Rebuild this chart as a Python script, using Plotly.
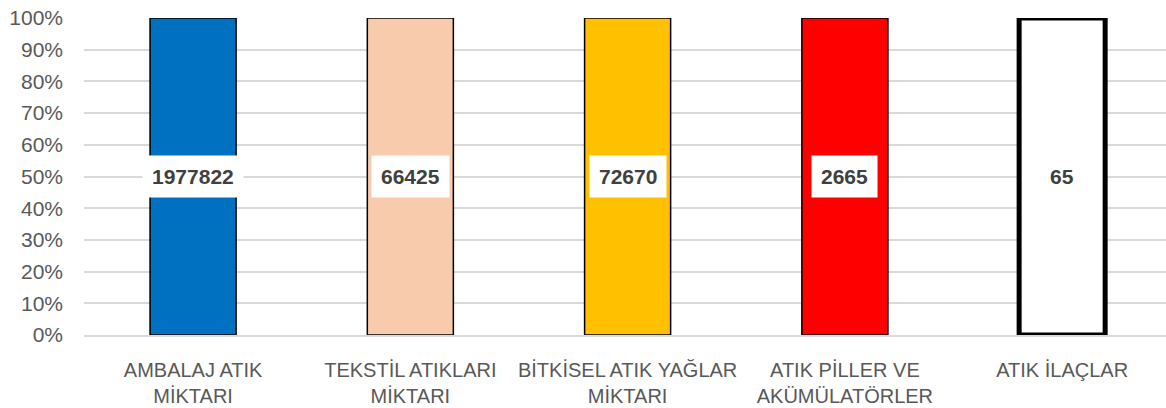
import plotly.graph_objects as go

categories = ["AMBALAJ ATIK<br>MİKTARI", "TEKSTİL ATIKLARI<br>MİKTARI",
              "BİTKİSEL ATIK YAĞLAR<br>MİKTARI", "ATIK PİLLER VE<br>AKÜMÜLATÖRLER",
              "ATIK İLAÇLAR"]
values = [1977822, 66425, 72670, 2665, 65]
colors = ["#0070C0", "#F8CBAD", "#FFC000", "#FF0000", "#FFFFFF"]
line_widths = [1.5, 1.5, 1.5, 1.5, 5]
label_pos = [50, 50, 50, 50, 50]
y_ticks = [0, 10, 20, 30, 40, 50, 60, 70, 80, 90, 100]
y_tick_text = [f"{t}%" for t in y_ticks]

fig = go.Figure()
fig.add_trace(go.Bar(
    x=categories, y=values,
    marker=dict(color=colors, line=dict(color="#000000", width=line_widths)),
    width=0.396, hoverinfo="skip",
))

for c, v, p in zip(categories, values, label_pos):
    fig.add_annotation(x=c, y=p, text=f"<b>{v}</b>", showarrow=False,
                       bgcolor="#FFFFFF", borderpad=9,
                       font=dict(family="Liberation Sans", size=21, color="#404040"))

fig.update_layout(
    width=1166, height=408,
    margin=dict(l=84, r=0, t=18, b=73),
    paper_bgcolor="white", plot_bgcolor="white",
    barmode="stack", barnorm="percent",
    showlegend=False,
    font=dict(family="Liberation Sans", color="#595959"),
)
fig.update_yaxes(range=[0, 100], tickmode="array", tickvals=y_ticks, ticktext=y_tick_text,
                 gridcolor="#D9D9D9", gridwidth=1.5, zeroline=False,
                 tickfont=dict(size=21, color="#595959"), ticklabelstandoff=20)
fig.update_xaxes(range=[-0.502, 4.478], tickfont=dict(size=20, color="#595959"), showline=True,
                 linecolor="#D9D9D9", linewidth=1.5, ticklabelstandoff=16)

fig.write_html("out.html", config={"displayModeBar": False},
               post_script="document.body.style.margin='0';")
